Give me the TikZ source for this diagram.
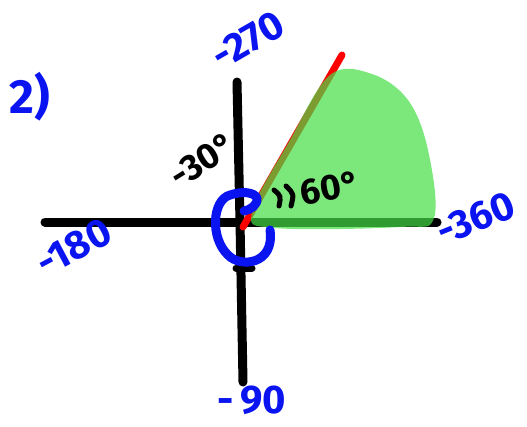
\documentclass[tikz,border=0pt]{standalone}
\usepackage{fontspec}
\setsansfont{Fira Sans}
\usetikzlibrary{arrows.meta}

\definecolor{pen}{RGB}{10,20,240}
\definecolor{leaf}{RGB}{69,222,69}

\tikzset{
  axis/.style={line width=9pt, line cap=round, black},
  penlabel/.style={text=pen, font=\sffamily\bfseries\fontsize{40}{40}\selectfont, inner sep=0pt},
  blacklabel/.style={text=black, font=\sffamily\bfseries\fontsize{36}{36}\selectfont, inner sep=0pt}
}

\begin{document}
\begin{tikzpicture}[x=1pt, y=-1pt]
    \useasboundingbox (0,0) rectangle (527,426);
    % eixos
    \draw[axis] (45,222) -- (437,222);
    \draw[axis] (237,82) -- (240,222) -- (243,382);
    \draw[line width=7pt, line cap=round] (236,268) -- (252,268);   % marca
    % lado terminal
    \draw[red, line width=7pt, line cap=round] (243,227) -- (342,55);
    % regiao do angulo
    \fill[leaf, opacity=0.7] plot[smooth cycle, tension=0.6] coordinates {
      (252,212) (290,140) (330,75) (372,74) (408,100) (428,150)
      (434,218) (400,227) (275,228)};
    % giro de -300
    \draw[pen, line width=9pt, line cap=round, line join=round]
      (270,230) .. controls (275,265) and (240,268) .. (228,255)
      .. controls (210,238) and (212,200) .. (230,195)
      .. controls (242,191) and (254,192) .. (257,198)
      .. controls (258,205) and (250,210) .. (244,211);
    % marcas do angulo
    \draw[line width=5pt, line cap=round] (274,190) .. controls (281,196) .. (279,206);
    \draw[line width=5pt, line cap=round] (286,186) .. controls (294,194) .. (291,206);
    % textos
    \node[blacklabel, rotate=32] (ang300) at (203,160) {-30°};
    \node[blacklabel, rotate=10] (ang60) at (330,188) {60°};
    \node[penlabel, font=\sffamily\bfseries\fontsize{48}{48}\selectfont] (item) at (30,97) {2)};
    \node[penlabel, rotate=30] (m270) at (248,40) {-270};
    \node[penlabel, rotate=22] (m360) at (476,218) {-360};
    \node[penlabel, rotate=28] (m180) at (74,247) {-180};
    \node[penlabel] (m90) at (252,400) {-\,90};
\end{tikzpicture}
\end{document}
